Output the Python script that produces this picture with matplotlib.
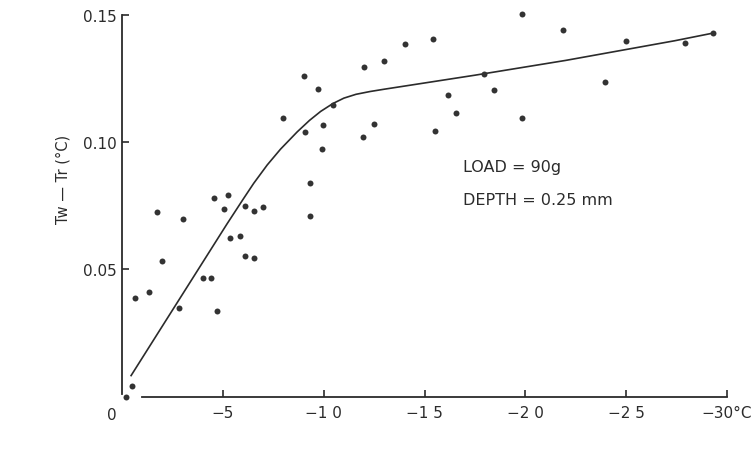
import numpy as np
import matplotlib.pyplot as plt

# measured points: temperature (deg C) and Tw - Tr (deg C)
temp = [-0.2, -0.5, -0.65, -1.34, -1.72, -2.0, -2.84, -3.03, -4.01, -4.43,
        -4.69, -4.58, -5.27, -5.06, -5.34, -5.84, -6.12, -6.55, -6.97, -6.1,
        -6.55, -9.3, -9.3, -7.96, -9.02, -9.7, -10.46, -9.05, -9.97, -9.93,
        -12.0, -12.97, -14.03, -15.44, -12.47, -11.96, -16.18, -16.55, -15.54, -17.93,
        -18.42, -19.82, -19.83, -21.86, -23.95, -24.98, -27.93, -29.3]
diff = [0.0, 0.0043, 0.0388, 0.041, 0.0724, 0.0533, 0.0348, 0.0697, 0.0465, 0.0465,
        0.0339, 0.0782, 0.0793, 0.0737, 0.0624, 0.0633, 0.0748, 0.0728, 0.0746, 0.0554,
        0.0544, 0.0839, 0.0709, 0.1095, 0.1257, 0.1207, 0.1144, 0.104, 0.1067, 0.0973,
        0.1293, 0.1316, 0.1383, 0.1405, 0.1072, 0.1018, 0.1186, 0.1115, 0.1043, 0.1265,
        0.1205, 0.1502, 0.1094, 0.1438, 0.1234, 0.1395, 0.1388, 0.1427]

curve_t = [-0.45, -2.0, -3.88, -5.2, -6.0, -6.53, -7.2, -7.86, -8.69, -9.3,
           -9.85, -10.46, -11.0, -11.6, -12.3, -13.0, -17.5, -22.0, -27.4, -29.3]
curve_v = [0.0084, 0.0278, 0.0513, 0.0678, 0.0775, 0.0838, 0.0910, 0.0972, 0.1040, 0.1085,
           0.1120, 0.1151, 0.1172, 0.1187, 0.1198, 0.1207, 0.1262, 0.1320, 0.1397, 0.1427]

xticks = [-5, -10, -15, -20, -25, -30]
xticklabels = ["\u22125", "\u22121 0", "\u22121 5", "\u22122 0", "\u22122 5", "\u221230\u00b0C"]
yticks = [0.05, 0.10, 0.15]
yticklabels = ["0.05", "0.10", "0.15"]

ink = "#2b2b2b"
plt.rcParams['font.family'] = ['DejaVu Sans']

fig = plt.figure(figsize=(7.56, 4.56), dpi=100)
ax = fig.add_axes([0.1614, 0.1272, 0.8003, 0.8388])

ax.plot(curve_t, curve_v, color=ink, lw=1.2)
ax.plot(temp, diff, "o", color="#333333", markersize=4.3, markeredgewidth=0,
        clip_on=False, zorder=3)

ax.set_xlim(0, -30)
ax.set_ylim(0, 0.15)

for s in ["top", "right"]:
    ax.spines[s].set_visible(False)
ax.spines["left"].set_bounds(0.001, 0.15)
ax.spines["bottom"].set_bounds(-1, -30)
for s in ["left", "bottom"]:
    ax.spines[s].set_color(ink)
    ax.spines[s].set_linewidth(1.3)

ax.set_xticks(xticks)
ax.set_xticklabels(xticklabels)
ax.set_yticks(yticks)
ax.set_yticklabels(yticklabels)
ax.tick_params(axis="both", direction="in", length=5, width=1.2, color=ink,
               labelcolor=ink, labelsize=11)
ax.tick_params(axis="x", pad=6)
ax.tick_params(axis="y", pad=4)

ax.text(0.5, -0.007, "0", color=ink, fontsize=11, ha="center", va="center",
        clip_on=False)

ax.text(-16.9, 0.0902, "LOAD = 90g", color=ink, fontsize=11.5, va="center")
ax.text(-16.9, 0.0776, "DEPTH = 0.25 mm", color=ink, fontsize=11.5, va="center")

fig.text(63 / 756, 1 - 179 / 456, "Tw \u2014 Tr (\u00b0C)", rotation=90, color=ink,
         fontsize=10.5, ha="center", va="center")

fig.savefig("out.png", dpi=100, facecolor="white")
